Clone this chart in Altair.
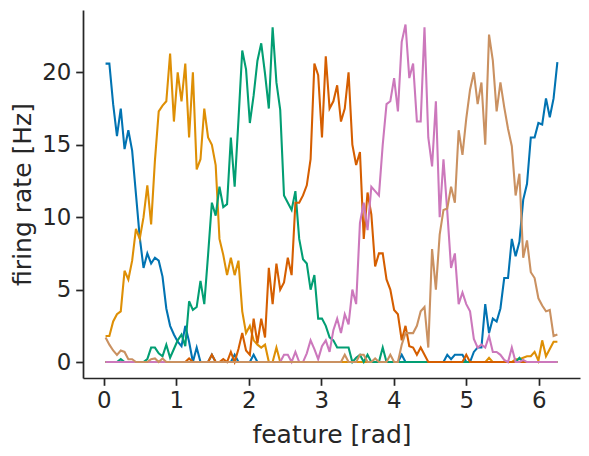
import math
import altair as alt
import pandas as pd

N_BINS = 120
neurons = ["n0", "n1", "n2", "n3", "n4", "n5"]
colors = ["#0173b2", "#de8f05", "#029e73", "#d55e00", "#cc78bc", "#ca9161"]

n0 = [20.6, 20.6, 17.8, 15.6, 17.5, 14.7, 16.0, 14.6, 11.6, 8.6,
      6.5, 7.5, 6.8, 7.2, 7.0, 5.9, 3.7, 2.5, 1.9, 1.4,
      1.1, 2.5, 1.4, 0, 1.0, 0, 0, 0, 0.5, 0,
      0, 0, 0, 0, 0.5, 0, 0, 0, 0, 0.5,
      0, 0, 0, 0, 0, 0, 0, 0, 0, 0,
      0, 0, 0, 0, 0, 0, 0, 0, 0, 0,
      0, 0, 0, 0, 0, 0, 0, 0, 0, 0,
      0, 0, 0, 0, 0, 0, 0, 0, 0.5, 0,
      0, 0, 0, 0, 0, 0, 0, 0, 0, 0,
      0.5, 0.2, 0.5, 0.5, 0.5, 0, 0, 0.7, 1.0, 1.0,
      4.0, 2.0, 3.0, 2.8, 3.7, 5.8, 5.8, 8.5, 7.3, 8.3,
      11.2, 12.3, 15.5, 15.5, 16.5, 16.4, 18.2, 16.9, 18.2, 20.7]

n1 = [1.8, 1.8, 2.8, 3.3, 3.5, 6.3, 5.7, 7.0, 9.2, 8.5,
      10.0, 12.2, 9.5, 13.9, 17.3, 17.7, 18.0, 21.3, 16.6, 20.0,
      18.0, 20.6, 15.5, 20.0, 13.3, 14.0, 17.5, 15.5, 15.0, 13.6,
      8.5, 7.4, 6.0, 7.2, 6.0, 7.0, 3.5, 2.0, 2.5, 1.5,
      1.2, 1.0, 1.2, 0, 0, 1.0, 0, 0, 0, 0,
      0, 0, 0, 0, 0, 0, 0, 0, 0, 0,
      0, 0, 0, 0, 0, 0, 0, 0, 0, 0,
      0, 0, 0, 0, 0, 0, 0, 0, 0, 0,
      0, 0, 0, 0, 0, 0, 0, 0, 0, 0,
      0, 0, 0, 0, 0, 0, 0, 0, 0, 0,
      0, 0.3, 0, 0, 0, 0, 0, 0, 0.2, 0.2,
      0.3, 0.4, 0.4, 0.7, 0.1, 1.5, 0.4, 0.9, 1.4, 1.4]

n2 = [0, 0, 0, 0, 0.2, 0, 0, 0, 0, 0,
      0, 0.2, 1.0, 1.0, 0.6, 0.4, 1.2, 0.3, 0.9, 1.5,
      1.9, 1.1, 4.2, 3.6, 3.8, 5.6, 4.0, 7.4, 11.0, 10.1,
      12.1, 10.7, 10.9, 15.5, 12.1, 16.7, 21.5, 20.2, 16.5, 18.4,
      20.8, 22.0, 19.9, 17.5, 23.1, 19.3, 17.4, 11.5, 11.0, 10.5,
      11.8, 8.5, 7.1, 6.8, 5.0, 6.0, 3.0, 3.0, 2.5, 1.7,
      1.5, 1.0, 1.0, 1.0, 1.0, 0, 0.3, 0.5, 0, 0.5,
      0, 0, 0, 1.0, 0, 0, 0, 0, 0, 0,
      0, 0, 0, 0, 0, 0, 0, 0, 0, 0,
      0, 0, 0, 0, 0, 0, 0, 0, 0, 0,
      0, 0, 0, 0, 0, 0, 0, 0, 0, 0.3,
      0, 0, 0, 0, 0, 0, 0, 0, 0, 0]

n3 = [0, 0, 0, 0, 0, 0, 0, 0, 0, 0,
      0, 0, 0, 0, 0, 0, 0, 0, 0, 0,
      0, 0, 0.25, 0, 0, 0, 0, 0, 0.5, 0,
      0, 0.2, 0, 0.7, 0, 0.9, 2.0, 0.8, 0.5, 3.0,
      1.3, 3.0, 1.7, 6.5, 4.0, 6.8, 5.0, 5.5, 7.2, 6.0,
      11.0, 11.0, 11.5, 12.2, 14.0, 20.6, 19.8, 15.5, 21.1, 17.5,
      18.0, 19.1, 16.6, 17.5, 20.0, 15.0, 13.6, 14.5, 8.5, 11.7,
      10.2, 6.6, 7.5, 7.5, 5.7, 5.0, 3.6, 3.3, 1.5, 2.5,
      1.1, 1.0, 0.5, 1.0, 0.5, 0, 0, 0, 0, 0,
      0, 0, 0, 0, 0, 0.5, 0, 0, 0, 0,
      0, 0, 0, 0, 0, 0, 0, 0, 0, 0,
      0, 0, 0, 0, 0, 0, 0, 0, 0, 0]

n4 = [0, 0, 0, 0, 0, 0, 0, 0, 0, 0,
      0, 0, 0, 0, 0, 0, 0, 0, 0, 0,
      0, 0, 0, 0, 0, 0, 0, 0, 0, 0,
      0, 0, 0, 0, 0, 0, 0, 0, 0, 0,
      0, 0, 0, 0, 0, 0, 0, 0.5, 0.5, 0,
      0.7, 0, 0, 0.6, 1.5, 0.9, 0.2, 1.1, 1.5, 0.7,
      2.2, 3.0, 2.0, 3.3, 2.6, 5.0, 4.0, 9.6, 11.0, 9.1,
      12.1, 11.8, 11.5, 15.0, 17.8, 18.0, 19.6, 17.3, 22.1, 23.3,
      19.6, 20.6, 16.6, 16.6, 23.1, 15.5, 13.5, 18.0, 10.0, 14.0,
      10.4, 6.5, 7.5, 4.0, 4.8, 4.0, 3.5, 1.6, 1.0, 1.2,
      1.0, 1.8, 0.7, 0.7, 0.5, 0.15, 0, 1.0, 0, 0,
      0.15, 0, 0, 0, 0, 0, 0, 0, 0, 0]

n5 = [1.7, 1.2, 0.8, 0.5, 0.8, 0.7, 0.2, 0.2, 0, 0,
      0, 0, 0.2, 0.25, 0, 0.25, 0, 0, 0, 0,
      0, 0, 0, 0, 0, 0, 0, 0, 0, 0,
      0, 0, 0, 0, 0, 0, 0, 0, 0, 0,
      0, 0, 0, 0, 0, 0, 0, 0, 0, 0,
      0, 0, 0, 0, 0, 0, 0, 0, 0, 0,
      0, 0, 0, 0.5, 0, 0, 0, 0.5, 0.5, 0,
      0, 0.25, 0, 0, 0, 0.5, 0, 0, 1.2, 2.0,
      2.0, 2.0, 2.5, 3.5, 3.8, 1.0, 7.8, 5.0, 8.8, 10.5,
      10.6, 12.1, 11.0, 16.0, 14.3, 16.8, 18.8, 20.0, 17.8, 19.3,
      15.0, 22.6, 20.8, 17.3, 19.3, 17.6, 16.1, 14.9, 11.5, 13.0,
      7.2, 8.4, 6.2, 5.8, 4.4, 3.9, 3.5, 3.6, 1.8, 1.9]

series = [n0, n1, n2, n3, n4, n5]
x_vals = [(i + 0.5) * 2 * math.pi / N_BINS for i in range(N_BINS)]

rows = []
for name, vals in zip(neurons, series):
    for x, v in zip(x_vals, vals):
        rows.append({"feature": x, "rate": v, "neuron": name})
df = pd.DataFrame(rows)

FONT = "DejaVu Sans"
TXT = "#262626"

xscale = alt.Scale(domain=[-0.285, 6.569], nice=False, zero=False)
yscale = alt.Scale(domain=[-1.1, 24.3], nice=False, zero=False)
cscale = alt.Scale(domain=neurons, range=colors)

xaxis = alt.Axis(values=[0, 1, 2, 3, 4, 5, 6], title="feature [rad]", grid=False,
                 labelFontSize=22.9, labelFont=FONT, labelColor=TXT,
                 labelBaseline="alphabetic", labelPadding=22.3,
                 tickSize=7.3, tickWidth=1.74, tickColor=TXT,
                 domainColor=TXT, domainWidth=1.74,
                 titleFont=FONT, titleFontSize=25, titleFontWeight="normal", titleColor=TXT,
                 titleX=248.5, titleY=64, titleBaseline="alphabetic", titleAlign="center",
                 labelFlush=False)
yaxis = alt.Axis(values=[0, 5, 10, 15, 20], title="firing rate [Hz]", grid=False,
                 labelFontSize=22.9, labelFont=FONT, labelColor=TXT,
                 labelPadding=4.9, labelBaseline="middle",
                 tickSize=7.3, tickWidth=1.74, tickColor=TXT,
                 domainColor=TXT, domainWidth=1.74,
                 titleFont=FONT, titleFontSize=25, titleFontWeight="normal", titleColor=TXT,
                 titleX=-53, titleY=184, titleAngle=270, titleBaseline="alphabetic",
                 titleAlign="center", labelFlush=False)

base = alt.Chart(df).mark_line(strokeWidth=2.08, clip=True).encode(
    x=alt.X("feature:Q", scale=xscale, axis=xaxis),
    y=alt.Y("rate:Q", scale=yscale, axis=yaxis),
    color=alt.Color("neuron:N", scale=cscale, legend=None),
)

layers = [base.transform_filter(alt.datum.neuron == name) for name in neurons]

chart = alt.layer(*layers).properties(
    width=497, height=368,
    autosize=alt.AutoSizeParams(type="none"),
    padding={"left": 75, "top": 2, "right": 1, "bottom": 70},
    background="white",
).configure_view(stroke=None)

chart.save("out.html", embed_options={"renderer": "svg", "actions": False})
